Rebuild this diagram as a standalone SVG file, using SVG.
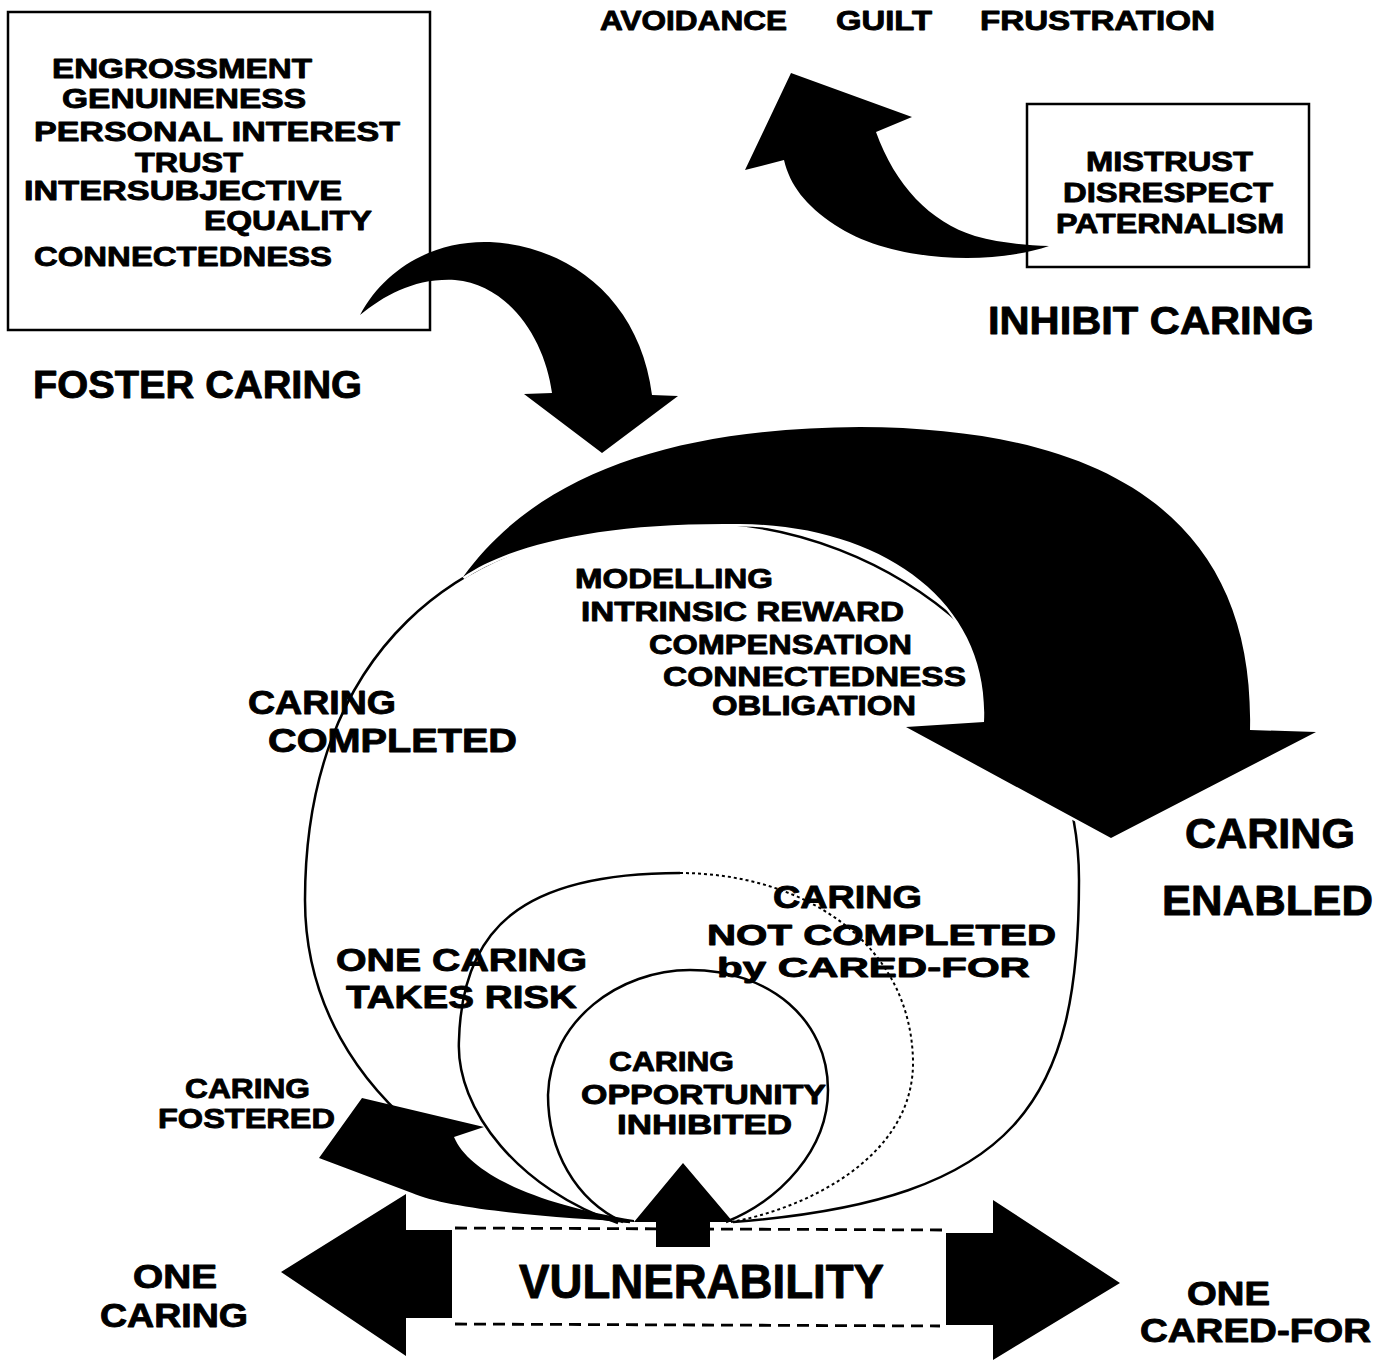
<svg xmlns="http://www.w3.org/2000/svg" width="1385" height="1360" viewBox="0 0 1385 1360">
  <style>
    .t { font-family: "Liberation Sans", Arial, sans-serif; font-weight: bold; fill: #000; stroke: #000; stroke-width: 0.9; stroke-linejoin: round; }
    .s28 { font-size: 28px; }
    .s30 { font-size: 30px; }
    .s32 { font-size: 32px; }
    .s33 { font-size: 33px; }
    .s39 { font-size: 39px; }
    .s42 { font-size: 42px; }
    .s48 { font-size: 48px; }
    .box { fill: none; stroke: #000; stroke-width: 2.5; }
    .loop { fill: none; stroke: #000; stroke-width: 2.5; }
    .dots { fill: none; stroke: #000; stroke-width: 2; stroke-dasharray: 3 3; }
    .dash { fill: none; stroke: #000; stroke-width: 2.8; stroke-dasharray: 12 7; }
    .arrow { fill: #000; }
  </style>
  <rect width="1385" height="1360" fill="#fff"/>

  <!-- Foster caring factors -->
  <g id="foster-box">
    <rect class="box" x="8" y="12" width="422" height="318"/>
    <text class="t s28" x="52" y="78" textLength="260" lengthAdjust="spacingAndGlyphs">ENGROSSMENT</text>
    <text class="t s28" x="62" y="108" textLength="244" lengthAdjust="spacingAndGlyphs">GENUINENESS</text>
    <text class="t s28" x="34" y="141" textLength="366" lengthAdjust="spacingAndGlyphs">PERSONAL INTEREST</text>
    <text class="t s28" x="135" y="172" textLength="108" lengthAdjust="spacingAndGlyphs">TRUST</text>
    <text class="t s28" x="24" y="200" textLength="318" lengthAdjust="spacingAndGlyphs">INTERSUBJECTIVE</text>
    <text class="t s28" x="204" y="230" textLength="168" lengthAdjust="spacingAndGlyphs">EQUALITY</text>
    <text class="t s28" x="34" y="266" textLength="298" lengthAdjust="spacingAndGlyphs">CONNECTEDNESS</text>
  </g>
  <g id="foster-label">
    <text class="t s39" x="33" y="398" textLength="329" lengthAdjust="spacingAndGlyphs">FOSTER CARING</text>
  </g>

  <!-- Inhibit caring factors -->
  <g id="outcomes">
    <text class="t s28" x="600" y="30" textLength="187" lengthAdjust="spacingAndGlyphs">AVOIDANCE</text>
    <text class="t s28" x="836" y="30" textLength="96" lengthAdjust="spacingAndGlyphs">GUILT</text>
    <text class="t s28" x="980" y="30" textLength="235" lengthAdjust="spacingAndGlyphs">FRUSTRATION</text>
  </g>
  <g id="inhibit-box">
    <rect class="box" x="1027" y="104" width="282" height="163"/>
    <text class="t s28" x="1086" y="171" textLength="167" lengthAdjust="spacingAndGlyphs">MISTRUST</text>
    <text class="t s28" x="1063" y="202" textLength="210" lengthAdjust="spacingAndGlyphs">DISRESPECT</text>
    <text class="t s28" x="1056" y="233" textLength="228" lengthAdjust="spacingAndGlyphs">PATERNALISM</text>
  </g>
  <g id="inhibit-label">
    <text class="t s39" x="988" y="334" textLength="326" lengthAdjust="spacingAndGlyphs">INHIBIT CARING</text>
  </g>

  <!-- Nested loops of the caring process -->
  <g id="loop-completed">
    <path class="loop" d="M 630,1222 C 520,1215 305,1110 305,900 C 305,660 450,522 690,522 C 900,522 1079,680 1079,880 C 1079,1100 1020,1200 733,1222"/>
    <text class="t s33" x="248" y="714" textLength="148" lengthAdjust="spacingAndGlyphs">CARING</text>
    <text class="t s33" x="268" y="752" textLength="249" lengthAdjust="spacingAndGlyphs">COMPLETED</text>
  </g>
  <g id="loop-risk">
    <path class="loop" d="M 618,1223 C 520,1190 455,1110 459,1040 C 462,930 520,873 680,873"/>
    <path class="dots" d="M 680,873 C 800,873 910,940 913,1060 C 915,1160 800,1210 731,1222"/>
    <text class="t s32" x="336" y="971" textLength="251" lengthAdjust="spacingAndGlyphs">ONE CARING</text>
    <text class="t s32" x="346" y="1008" textLength="231" lengthAdjust="spacingAndGlyphs">TAKES RISK</text>
    <text class="t s32" x="773" y="908" textLength="149" lengthAdjust="spacingAndGlyphs">CARING</text>
    <text class="t s30" x="707" y="945" textLength="349" lengthAdjust="spacingAndGlyphs">NOT COMPLETED</text>
    <text class="t s28" x="717" y="977" textLength="313" lengthAdjust="spacingAndGlyphs">by CARED-FOR</text>
  </g>
  <g id="loop-inhibited">
    <path class="loop" d="M 623,1222 C 575,1200 548,1150 548,1095 C 550,1020 620,970 690,970 C 770,970 828,1020 828,1090 C 828,1150 780,1200 726,1222"/>
    <text class="t s28" x="609" y="1071" textLength="125" lengthAdjust="spacingAndGlyphs">CARING</text>
    <text class="t s28" x="581" y="1104" textLength="245" lengthAdjust="spacingAndGlyphs">OPPORTUNITY</text>
    <text class="t s28" x="617" y="1134" textLength="175" lengthAdjust="spacingAndGlyphs">INHIBITED</text>
  </g>

  <!-- Enabling factors -->
  <g id="enable-factors">
    <text class="t s28" x="575" y="588" textLength="198" lengthAdjust="spacingAndGlyphs">MODELLING</text>
    <text class="t s28" x="581" y="621" textLength="323" lengthAdjust="spacingAndGlyphs">INTRINSIC REWARD</text>
    <text class="t s28" x="649" y="654" textLength="263" lengthAdjust="spacingAndGlyphs">COMPENSATION</text>
    <text class="t s28" x="663" y="686" textLength="303" lengthAdjust="spacingAndGlyphs">CONNECTEDNESS</text>
    <text class="t s28" x="712" y="715" textLength="204" lengthAdjust="spacingAndGlyphs">OBLIGATION</text>
  </g>
  <g id="enabled-label">
    <text class="t s42" x="1185" y="848" textLength="170" lengthAdjust="spacingAndGlyphs">CARING</text>
    <text class="t s42" x="1162" y="915" textLength="211" lengthAdjust="spacingAndGlyphs">ENABLED</text>
  </g>

  <g id="fostered-label">
    <text class="t s28" x="185" y="1098" textLength="125" lengthAdjust="spacingAndGlyphs">CARING</text>
    <text class="t s28" x="158" y="1128" textLength="177" lengthAdjust="spacingAndGlyphs">FOSTERED</text>
  </g>

  <!-- Vulnerability bar -->
  <g id="vulnerability">
    <line class="dash" x1="455" y1="1228" x2="946" y2="1230"/>
    <line class="dash" x1="455" y1="1324" x2="940" y2="1326"/>
    <text class="t s48" x="519" y="1298" textLength="365" lengthAdjust="spacingAndGlyphs">VULNERABILITY</text>
  </g>
  <g id="one-caring">
    <text class="t s33" x="133" y="1288" textLength="84" lengthAdjust="spacingAndGlyphs">ONE</text>
    <text class="t s33" x="100" y="1327" textLength="148" lengthAdjust="spacingAndGlyphs">CARING</text>
  </g>
  <g id="one-cared-for">
    <text class="t s33" x="1187" y="1305" textLength="83" lengthAdjust="spacingAndGlyphs">ONE</text>
    <text class="t s33" x="1140" y="1342" textLength="231" lengthAdjust="spacingAndGlyphs">CARED-FOR</text>
  </g>

  <!-- Connectors: block arrows -->
  <g id="connectors">
    <path class="arrow" d="M 360,315 C 385,268 435,240 490,242 C 570,246 640,300 652,395 L 678,396 L 602,453 L 524,394 L 552,393 C 545,340 510,285 455,280 C 415,278 385,295 360,315 Z"/>
    <path class="arrow" d="M 1049,246 C 990,266 890,262 835,225 C 805,205 790,185 784,160 L 745,170 L 791,73 L 912,117 L 876,132 C 895,185 930,222 975,236 C 1000,243 1025,245 1049,246 Z"/>
    <path class="arrow" stroke="#fff" stroke-width="5" paint-order="stroke" d="M 463,577 C 540,470 680,428 860,427 C 1110,428 1255,520 1250,730 L 1316,732 L 1111,838 L 906,727 L 984,722 C 990,600 880,525 740,524 C 600,522 510,545 463,577 Z"/>
    <path class="arrow" d="M 281,1272 L 406,1194 L 406,1230 L 452,1230 L 452,1318 L 406,1318 L 406,1356 Z"/>
    <path class="arrow" d="M 946,1233 L 993,1233 L 993,1200 L 1120,1283 L 993,1360 L 993,1325 L 946,1325 Z"/>
    <path class="arrow" d="M 683,1163 L 733,1222 L 710,1222 L 710,1247 L 656,1247 L 656,1222 L 634,1222 Z"/>
    <path class="arrow" d="M 634,1222 C 560,1218 450,1210 412,1193 L 319,1158 L 362,1098 L 484,1127 L 454,1137 C 470,1175 540,1205 634,1220 Z"/>
  </g>
</svg>
